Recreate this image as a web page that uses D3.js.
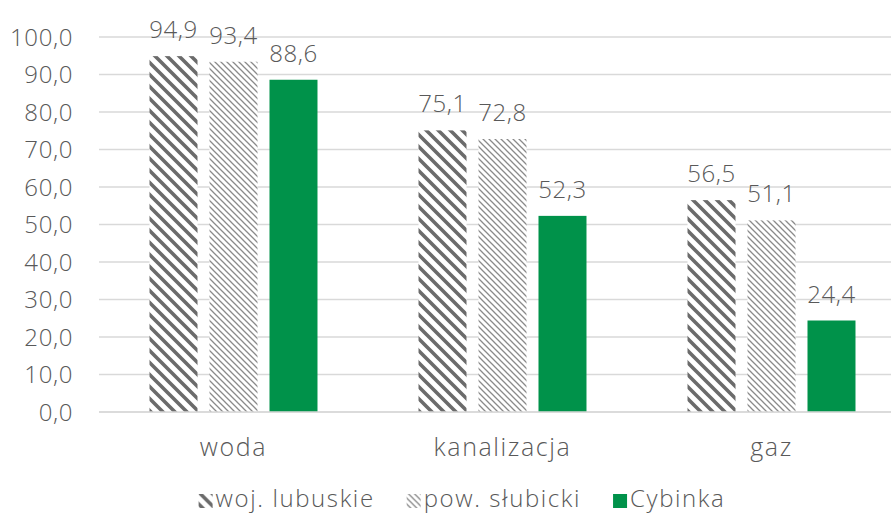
<!DOCTYPE html>
<html>
<head>
<meta charset="utf-8">
<script src="https://cdn.jsdelivr.net/npm/d3@7"></script>
<style>
  body { margin: 0; background: #fff; }
  svg text { font-family: "Open Sans", "DejaVu Sans", sans-serif; font-weight: 300; fill: #595959; letter-spacing: 0.6px; }
  svg text.wide { letter-spacing: 1.6px; }
</style>
</head>
<body>
<svg width="891" height="515"></svg>
<script>
var categories = ["woda", "kanalizacja", "gaz"];
var seriesNames = ["woj. lubuskie", "pow. słubicki", "Cybinka"];
var lubuskie = [94.9, 75.1, 56.5];
var slubicki = [93.4, 72.8, 51.1];
var cybinka = [88.6, 52.3, 24.4];
var yTicks = [0, 10, 20, 30, 40, 50, 60, 70, 80, 90, 100];

var seriesValues = [lubuskie, slubicki, cybinka];
var fills = ["url(#wideDiag)", "url(#lightDiag)", "#00924a"];

var svg = d3.select("svg"),
  width = +svg.attr("width"),
  height = +svg.attr("height");

var defs = svg.append("defs");

var wide = defs.append("pattern")
  .attr("id", "wideDiag")
  .attr("patternUnits", "userSpaceOnUse")
  .attr("width", 12).attr("height", 12);
wide.append("rect").attr("width", 12).attr("height", 12).attr("fill", "#fff");
wide.append("path")
  .attr("d", "M-3,9 L3,15 M0,0 L12,12 M9,-3 L15,3")
  .attr("stroke", "#6b6b6b").attr("stroke-width", 3.6);

var light = defs.append("pattern")
  .attr("id", "lightDiag")
  .attr("patternUnits", "userSpaceOnUse")
  .attr("width", 6).attr("height", 6);
light.append("rect").attr("width", 6).attr("height", 6).attr("fill", "#fff");
light.append("path")
  .attr("d", "M-1.5,4.5 L1.5,7.5 M0,0 L6,6 M4.5,-1.5 L7.5,1.5")
  .attr("stroke", "#8a8a8a").attr("stroke-width", 1.3);

var x0 = d3.scaleBand().domain(categories).range([99, 906]).padding(0);
var x1 = d3.scaleBand().domain(d3.range(3)).range([0, x0.bandwidth()])
  .paddingInner(0.2).paddingOuter(0.842);
var y = d3.scaleLinear().domain([0, 100]).range([412, 37]);

var fmt = function (v) { return d3.format(".1f")(v).replace(".", ","); };

// gridlines
svg.append("g")
  .selectAll("line")
  .data(yTicks)
  .enter()
  .append("line")
  .attr("x1", 99).attr("x2", width)
  .attr("y1", function (d) { return y(d); })
  .attr("y2", function (d) { return y(d); })
  .attr("stroke", "#d9d9d9")
  .attr("stroke-width", 1.5);

// y labels
svg.append("g")
  .selectAll("text")
  .data(yTicks)
  .enter()
  .append("text")
  .attr("x", 73)
  .attr("y", function (d) { return y(d); })
  .attr("dy", "0.36em")
  .attr("text-anchor", "end")
  .attr("font-size", 24)
  .text(fmt);

// bars
var groups = svg.append("g")
  .selectAll("g")
  .data(categories)
  .enter()
  .append("g")
  .attr("transform", function (d) { return "translate(" + x0(d) + ",0)"; });

var cells = groups.selectAll("g")
  .data(function (d, i) {
    return seriesValues.map(function (vals, s) { return { s: s, v: vals[i] }; });
  })
  .enter()
  .append("g");

cells.append("rect")
  .attr("x", function (d) { return x1(d.s); })
  .attr("width", x1.bandwidth())
  .attr("y", function (d) { return y(d.v); })
  .attr("height", function (d) { return y(0) - y(d.v); })
  .attr("fill", function (d) { return fills[d.s]; });

cells.append("text")
  .attr("x", function (d) { return x1(d.s) + x1.bandwidth() / 2; })
  .attr("y", function (d) { return y(d.v) - 18; })
  .attr("text-anchor", "middle")
  .attr("font-size", 24)
  .text(function (d) { return fmt(d.v); });

// baseline
svg.append("line")
  .attr("x1", 99).attr("x2", width)
  .attr("y1", y(0)).attr("y2", y(0))
  .attr("stroke", "#d9d9d9").attr("stroke-width", 1.5);

// category labels
svg.append("g")
  .selectAll("text")
  .data(categories)
  .enter()
  .append("text")
  .attr("class", "wide")
  .attr("x", function (d) { return x0(d) + x0.bandwidth() / 2; })
  .attr("y", 456)
  .attr("text-anchor", "middle")
  .attr("font-size", 25)
  .text(function (d) { return d; });

// legend
var legend = svg.append("g");
var items = legend.selectAll("g")
  .data(seriesNames)
  .enter()
  .append("g");
items.append("rect")
  .attr("width", 14).attr("height", 14)
  .attr("y", 494)
  .attr("fill", function (d, i) { return fills[i]; });
items.append("text")
  .attr("class", "wide")
  .attr("x", 17)
  .attr("y", 507)
  .attr("font-size", 24)
  .text(function (d) { return d; });

var xpos = 0, positions = [];
items.each(function () {
  positions.push(xpos);
  xpos += this.getBBox().width + 32;
});
var total = xpos - 32;
var start = 462 - total / 2;
items.attr("transform", function (d, i) { return "translate(" + (start + positions[i]) + ",0)"; });
</script>
</body>
</html>
